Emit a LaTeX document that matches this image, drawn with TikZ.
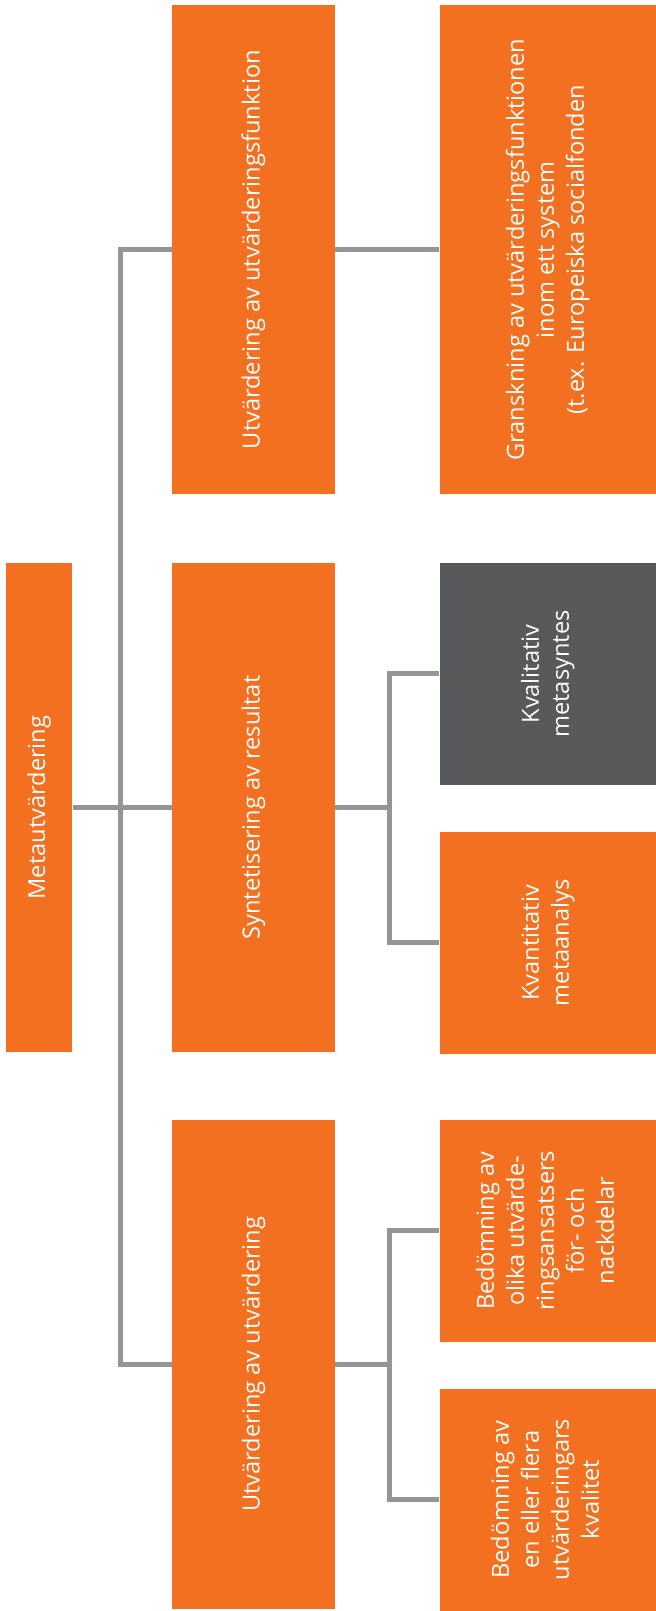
\documentclass[tikz,border=0pt]{standalone}
\usepackage{fontspec}
\setmainfont{Open Sans}
\usetikzlibrary{positioning, calc}
\definecolor{boxorange}{HTML}{F37021}
\definecolor{boxdark}{HTML}{58595B}
\definecolor{linkgray}{HTML}{939598}
\newcommand{\uptext}[1]{\rotatebox{90}{\begin{tabular}{@{}c@{}}#1\end{tabular}}}

\begin{document}
\begin{tikzpicture}[
    node distance=34pt and 49.5pt,
    box/.style={rectangle, inner sep=0pt, text=white, font=\fontsize{11.8}{15}\selectfont},
    rootbox/.style={box, fill=boxorange, minimum width=33pt, minimum height=244.5pt},
    branchbox/.style={box, fill=boxorange, minimum width=81.5pt, minimum height=244.5pt},
    widebox/.style={box, fill=boxorange, minimum width=108pt, minimum height=244.5pt},
    leafbox/.style={box, fill=boxorange, minimum width=108pt, minimum height=111pt},
    darkbox/.style={leafbox, fill=boxdark},
    link/.style={draw=linkgray, line width=2.5pt}
]
\useasboundingbox (-126.75pt,-401.75pt) rectangle (201.25pt,403.75pt);

\node[branchbox] (synt) at (0,0) {\uptext{Syntetisering av resultat}};
\node[branchbox, above=34pt of synt] (funk) {\uptext{Utvärdering av utvärderingsfunktion}};
\node[branchbox, below=33.5pt of synt] (utv) {\uptext{Utvärdering av utvärdering}};
\node[rootbox, left=49.5pt of synt] (meta) {\uptext{Metautvärdering}};

\node[widebox, right=52pt of funk] (gransk) {\uptext{Granskning av utvärderingsfunktionen\\inom ett system\\(t.ex. Europeiska socialfonden}};
\node[darkbox, anchor=north west] (kval) at ([xshift=52pt]synt.north east) {\uptext{Kvalitativ\\metasyntes}};
\node[leafbox, below=23pt of kval] (kvant) {\uptext{Kvantitativ\\metaanalys}};
\node[leafbox, anchor=north west] (olika) at ([xshift=52pt]utv.north east) {\uptext{Bedömning av\\olika utvärde-\\ringsansatsers\\för- och\\nackdelar}};
\node[leafbox, below=23pt of olika] (kvalitet) {\uptext{Bedömning av\\en eller flera\\utvärderingars\\kvalitet}};

% trunk from the root
\coordinate (trunk) at ($(meta.east)!0.485!(synt.west)$);
\draw[link] (meta.east) -- (synt.west);
\draw[link] (funk.west) -- (funk.west -| trunk) -- (utv.west -| trunk) -- (utv.west);

% second level
\coordinate (fork) at ($(synt.east)!0.52!(synt.east -| kval.west)$);
\draw[link] (funk.east) -- (gransk.west);
\draw[link] (synt.east) -- (synt.east -| fork);
\draw[link] (kval.west) -- (kval.west -| fork) -- (kvant.west -| fork) -- (kvant.west);
\draw[link] (utv.east) -- (utv.east -| fork);
\draw[link] (olika.west) -- (olika.west -| fork) -- (kvalitet.west -| fork) -- (kvalitet.west);

\end{tikzpicture}
\end{document}
